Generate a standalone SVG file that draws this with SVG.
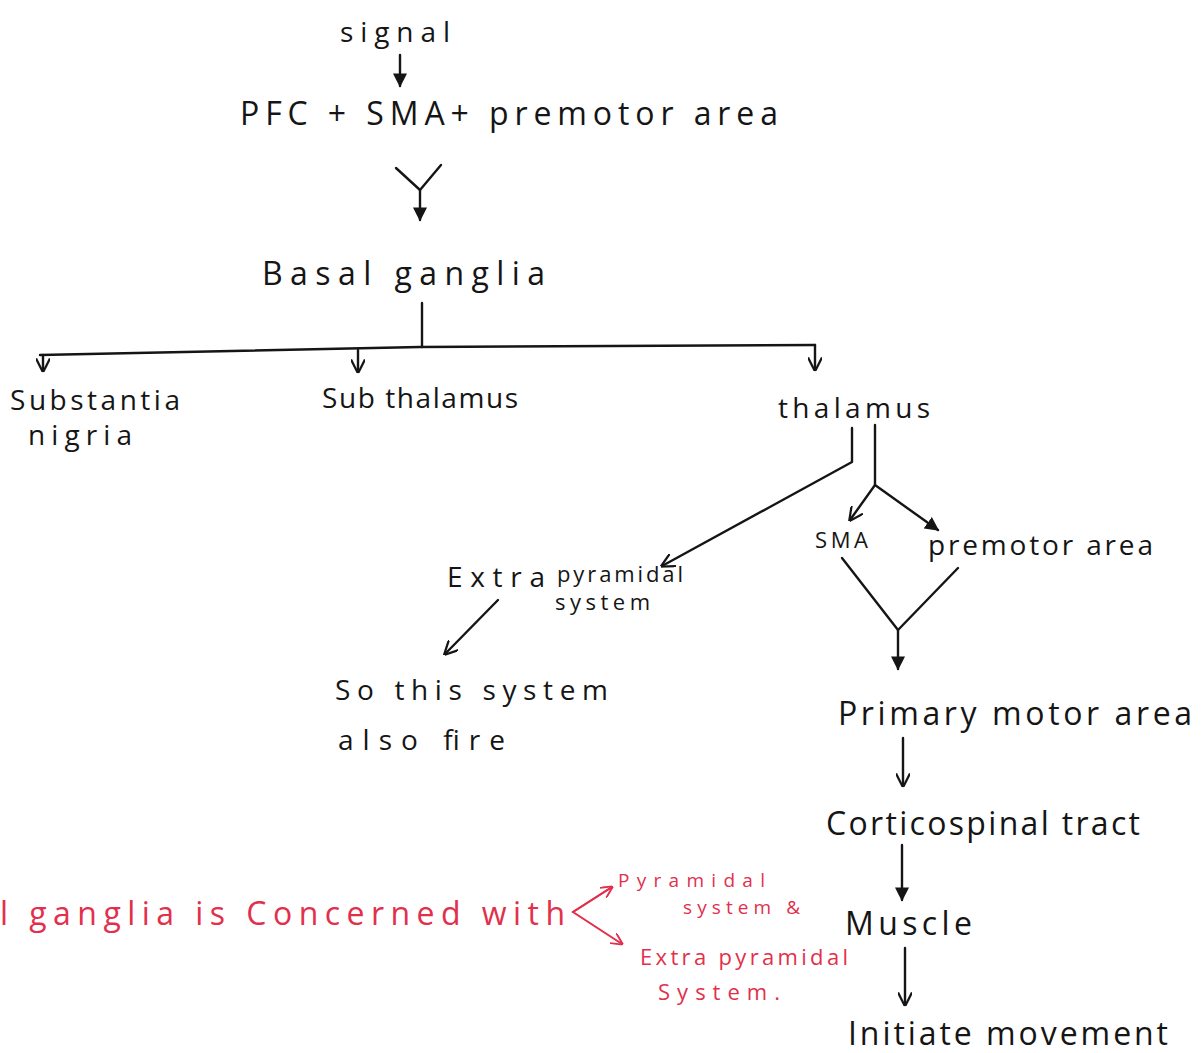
<svg xmlns="http://www.w3.org/2000/svg" width="1201" height="1053" viewBox="0 0 1201 1053">
<defs>
<marker id="fill" viewBox="0 0 10 10" refX="9" refY="5" markerWidth="14" markerHeight="14" markerUnits="userSpaceOnUse" orient="auto"><path d="M0,0 L10,5 L0,10 z" fill="#151515"/></marker>
<marker id="open" viewBox="0 0 10 10" refX="9" refY="5" markerWidth="14" markerHeight="14" markerUnits="userSpaceOnUse" orient="auto"><path d="M0,0 L10,5 L0,10" fill="none" stroke="#151515" stroke-width="1.6"/></marker>
<marker id="red" viewBox="0 0 10 10" refX="9" refY="5" markerWidth="12" markerHeight="12" markerUnits="userSpaceOnUse" orient="auto"><path d="M0,0 L10,5 L0,10" fill="none" stroke="#e2304c" stroke-width="1.6"/></marker>
</defs>
<style>
text{font-family:"Open Sans","Liberation Sans",sans-serif;fill:#151515}
.l{font-size:32px}
.m{font-size:28px}
.s{font-size:22px}
.xs{font-size:19px}
.r{fill:#e2304c}
.c{fill:none;stroke:#151515;stroke-width:2.4;stroke-linecap:round;stroke-linejoin:round}
.rc{fill:none;stroke:#e2304c;stroke-width:2;stroke-linecap:round}
</style>
<rect width="1201" height="1053" fill="#ffffff"/>
<g id="connectors">
<path class="c" d="M400,55 L400,86" marker-end="url(#fill)"/>
<path class="c" d="M396,168 L420,190 L441,165"/>
<path class="c" d="M420,190 L420,220" marker-end="url(#fill)"/>
<path class="c" d="M422,303 L422,347"/>
<path class="c" d="M40,355 L420,347 L815,345"/>
<path class="c" d="M43,355 L43,371" marker-end="url(#open)"/>
<path class="c" d="M358,350 L358,372" marker-end="url(#open)"/>
<path class="c" d="M815,345 L815,370" marker-end="url(#open)"/>
<path class="c" d="M852,428 L852,462 L662,566" marker-end="url(#open)"/>
<path class="c" d="M875,425 L875,485 L850,520" marker-end="url(#open)"/>
<path class="c" d="M875,485 L938,530" marker-end="url(#fill)"/>
<path class="c" d="M498,600 L445,654" marker-end="url(#open)"/>
<path class="c" d="M842,558 L898,630 L958,568"/>
<path class="c" d="M898,630 L898,669" marker-end="url(#fill)"/>
<path class="c" d="M903,738 L903,786" marker-end="url(#open)"/>
<path class="c" d="M902,845 L902,900" marker-end="url(#fill)"/>
<path class="c" d="M905,948 L905,1005" marker-end="url(#open)"/>
<path class="rc" d="M612,887 L573,912 L622,944" marker-end="url(#red)"/>
<path class="rc" d="M573,912 L612,887" marker-end="url(#red)"/>
</g>
<g id="signal"><text class="m" x="340" y="42" textLength="110">signal</text></g>
<g id="pfc"><text class="l" x="240" y="125" textLength="538">PFC + SMA+ premotor area</text></g>
<g id="basal"><text class="l" x="262" y="285" textLength="283">Basal ganglia</text></g>
<g id="substantia"><text class="m" x="10" y="410" textLength="170">Substantia</text><text class="m" x="28" y="445" textLength="104">nigria</text></g>
<g id="subthalamus"><text class="m" x="322" y="408" textLength="196">Sub thalamus</text></g>
<g id="thalamus"><text class="m" x="778" y="418" textLength="152">thalamus</text></g>
<g id="sma"><text class="s" x="815" y="548" textLength="53">SMA</text></g>
<g id="premotor"><text class="m" x="928" y="555" textLength="225">premotor area</text></g>
<g id="extrapyramidal"><text class="m" x="447" y="587" textLength="98">Extra</text><text class="s" x="557" y="582" textLength="126">pyramidal</text><text class="s" x="555" y="610" textLength="95">system</text></g>
<g id="fire"><text class="m" x="335" y="700" textLength="273">So  this  system</text><text class="m" x="338" y="750" textLength="167">also fire</text></g>
<g id="primary"><text class="l" x="838" y="725" textLength="354">Primary motor area</text></g>
<g id="corticospinal"><text class="l" x="826" y="835" textLength="314">Corticospinal tract</text></g>
<g id="muscle"><text class="l" x="845" y="935" textLength="127">Muscle</text></g>
<g id="initiate"><text class="l" x="848" y="1045" textLength="320">Initiate  movement</text></g>
<g id="note">
<text class="l r" x="0" y="925" textLength="565">l  ganglia  is  Concerned  with</text>
<text class="xs r" x="618" y="887" textLength="147">Pyramidal</text>
<text class="xs r" x="683" y="914" textLength="117">system &amp;</text>
<text class="s r" x="640" y="965" textLength="208">Extra pyramidal</text>
<text class="s r" x="658" y="1000" textLength="122">System.</text>
</g>
</svg>
